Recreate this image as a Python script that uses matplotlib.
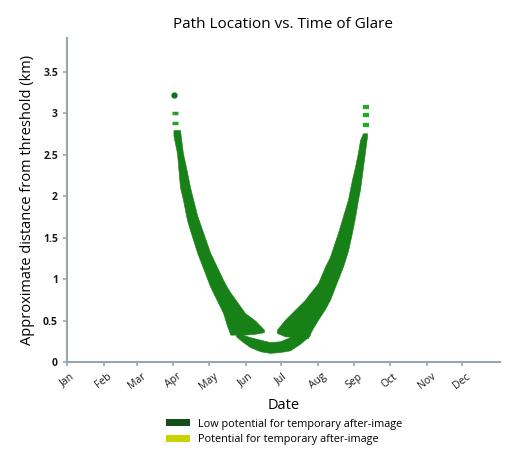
import matplotlib
matplotlib.use('Agg')
import matplotlib.pyplot as plt
from matplotlib.patches import Patch

plt.rcParams['font.family'] = ['Open Sans', 'DejaVu Sans']

# month starts (day of year) and labels
month_days = [0, 31, 59, 90, 120, 151, 181, 212, 243, 273, 304, 334]
month_names = ['Jan', 'Feb', 'Mar', 'Apr', 'May', 'Jun',
               'Jul', 'Aug', 'Sep', 'Oct', 'Nov', 'Dec']

# left branch of glare band (spring): day, lower / upper distance (km)
left_days = [90, 93, 95.5, 98, 101.5, 104, 110, 121, 132, 135, 138, 150.5, 159, 166.5]
left_hi = [2.80, 2.80, 2.80, 2.52, 2.29, 2.11, 1.77, 1.32, 0.99, 0.91, 0.84, 0.59, 0.50, 0.39]
left_lo = [2.73, 2.52, 2.11, 1.96, 1.71, 1.59, 1.32, 0.91, 0.59, 0.45, 0.33, 0.33, 0.34, 0.36]

# right branch (summer)
right_days = [177.5, 184.3, 192.7, 201.2, 203.7, 207.1, 212.2, 218.1, 222.3,
              229.1, 233.3, 237.5, 240.9, 243.4, 246.0, 247.7, 250.2, 253.6]
right_hi = [0.39, 0.51, 0.63, 0.75, 0.80, 0.86, 0.95, 1.15, 1.27,
            1.56, 1.76, 1.96, 2.20, 2.35, 2.53, 2.68, 2.76, 2.76]
right_lo = [0.35, 0.31, 0.30, 0.29, 0.29, 0.39, 0.51, 0.64, 0.75,
            1.00, 1.15, 1.34, 1.56, 1.74, 1.96, 2.08, 2.35, 2.72]

# bottom arc around the solstice
arc_days = [142.9, 147.9, 154.7, 163.1, 171.6, 180.1, 188.5, 197.0, 202.0, 205.4]
arc_hi = [0.34, 0.33, 0.30, 0.27, 0.24, 0.25, 0.30, 0.34, 0.35, 0.35]
arc_lo = [0.31, 0.25, 0.18, 0.13, 0.11, 0.12, 0.14, 0.22, 0.28, 0.33]

# isolated points at the ends
end_left_days = [91.3, 91.3]
end_left_km = [3.00, 2.88]
dot_day = [90.4]
dot_km = [3.22]
end_right_days = [253.2, 252.7, 252.7]
end_right_km = [3.08, 2.98, 2.86]

green = '#178017'

fig = plt.figure(figsize=(5.06, 4.5), dpi=100)
ax = fig.add_axes([0.1324, 0.1956, 0.8556, 0.72])

for d, lo, hi in [(left_days, left_lo, left_hi),
                  (right_days, right_lo, right_hi),
                  (arc_days, arc_lo, arc_hi)]:
    ax.fill_between(d, lo, hi, color=green, linewidth=0.4, edgecolor=green)

ax.plot(dot_day, dot_km, 'o', color='#13701a', markersize=3.5)
ax.plot(end_left_days, end_left_km, '_', color='#2aa02a', markersize=5, markeredgewidth=2.5)
ax.plot(end_right_days, end_right_km, '_', color='#1db01d', markersize=5, markeredgewidth=3)

ax.set_xlim(0, 366)
ax.set_ylim(0, 3.91)
ax.set_xticks(month_days)
ax.set_xticklabels(month_names, rotation=38, ha='center', fontsize=7.5)
ax.set_yticks([0, 0.5, 1, 1.5, 2, 2.5, 3, 3.5])
ax.set_yticklabels(['0', '0.5', '1', '1.5', '2', '2.5', '3', '3.5'],
                   fontsize=7.5, fontweight='bold')

for s in ['top', 'right']:
    ax.spines[s].set_visible(False)
for s in ['left', 'bottom']:
    ax.spines[s].set_color('#98a6b0')
    ax.spines[s].set_linewidth(1.5)
ax.tick_params(axis='both', colors='#98a6b0', length=3, width=1.2, labelcolor='#1a1a1a')
for i, t in enumerate(ax.xaxis.get_major_ticks()):
    if 3 <= i <= 7:
        t.tick1line.set_color('#2a8a2a')

ax.set_title('Path Location vs. Time of Glare', fontsize=11, pad=7)
ax.set_xlabel('Date', fontsize=10.5, labelpad=4)
ax.set_ylabel('Approximate distance from threshold (km)', fontsize=10.5, labelpad=6)

handles = [Patch(facecolor='#124f1c', edgecolor='none', label='Low potential for temporary after-image'),
           Patch(facecolor='#c8d400', edgecolor='none', label='Potential for temporary after-image')]
fig.legend(handles=handles, loc='upper left', bbox_to_anchor=(0.328, 0.07),
           frameon=False, fontsize=7.8, handlelength=2.2, handleheight=0.6,
           handletextpad=0.8, labelspacing=0.45, borderpad=0, borderaxespad=0)

fig.savefig('out.png', dpi=100)
